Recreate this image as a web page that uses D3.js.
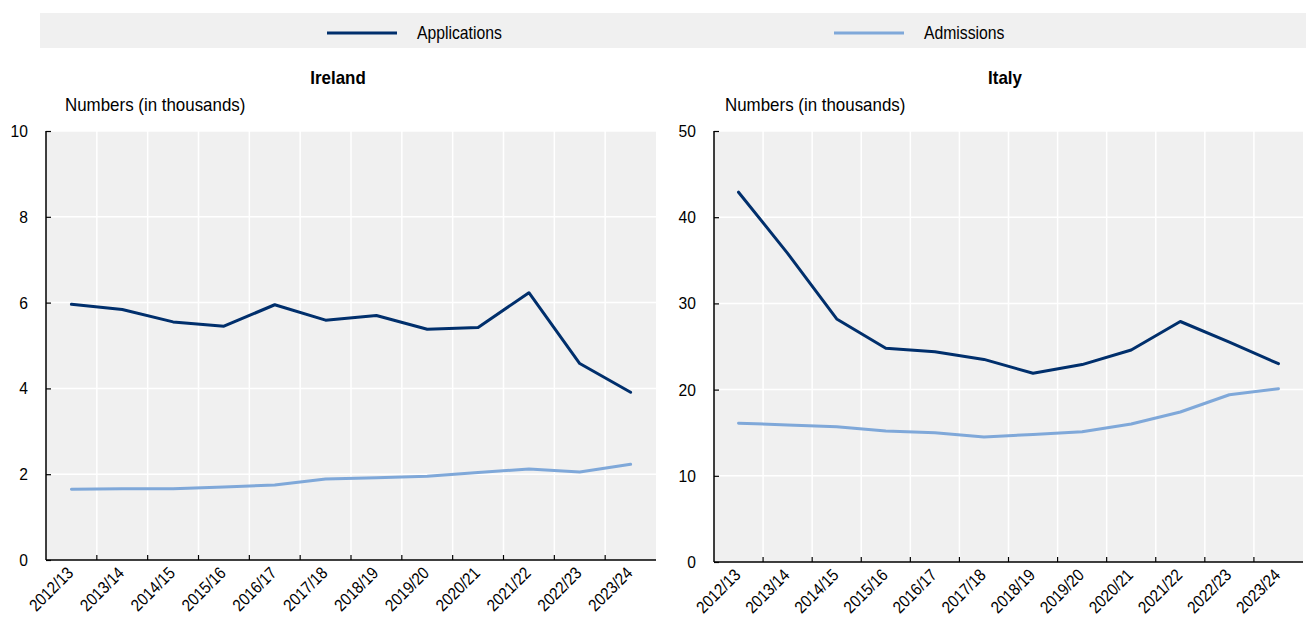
<!DOCTYPE html>
<html>
<head>
<meta charset="utf-8">
<script src="https://cdn.jsdelivr.net/npm/d3@7"></script>
<style>
  body { margin: 0; background: #fff; }
  svg text { font-family: "Liberation Sans", Arial, sans-serif; fill: #000; }
</style>
</head>
<body>
<div id="chart-container"></div>
<script>
// school years on the x axis
var years = ['2012/13', '2013/14', '2014/15', '2015/16', '2016/17', '2017/18',
             '2018/19', '2019/20', '2020/21', '2021/22', '2022/23', '2023/24'];

// Ireland, thousands
var irelandApplications = [5.96, 5.84, 5.55, 5.45, 5.95, 5.59, 5.70, 5.38, 5.42, 6.23, 4.58, 3.91];
var irelandAdmissions   = [1.65, 1.66, 1.66, 1.70, 1.75, 1.89, 1.92, 1.95, 2.04, 2.12, 2.05, 2.23];

// Italy, thousands
var italyApplications = [42.9, 35.8, 28.2, 24.8, 24.4, 23.5, 21.9, 22.9, 24.6, 27.9, 25.5, 23.0];
var italyAdmissions   = [16.1, 15.9, 15.7, 15.2, 15.0, 14.5, 14.8, 15.1, 16.0, 17.4, 19.4, 20.1];

var irelandTicks = [0, 2, 4, 6, 8, 10];
var italyTicks = [0, 10, 20, 30, 40, 50];

var seriesNames = ['Applications', 'Admissions'];
var colors = {Applications: '#002f6c', Admissions: '#7fa8d9'};

document.addEventListener('DOMContentLoaded', function() {
  visualise();
});

// narrow-looking text: Liberation Sans squeezed horizontally
function narrowText(parent, x, y, str, size, sx, extra) {
  return parent.append('text')
      .attr('transform', 'translate(' + x + ',' + y + ')' + (extra || '') + ' scale(' + sx + ',1)')
      .attr('font-size', size)
      .text(str);
}

function visualise() {
  const svgWidth = 1306;
  const svgHeight = 617;

  const svg = d3.select('#chart-container')
      .append('svg')
      .attr('width', svgWidth)
      .attr('height', svgHeight);

  // legend strip
  svg.append('rect')
      .attr('x', 40).attr('y', 13)
      .attr('width', 1266).attr('height', 35)
      .attr('fill', '#f0f0f0');

  const legendX = [327, 834];
  seriesNames.forEach(function(name, i) {
    svg.append('line')
        .attr('x1', legendX[i]).attr('x2', legendX[i] + 70)
        .attr('y1', 33).attr('y2', 33)
        .attr('stroke', colors[name])
        .attr('stroke-width', 3);
    narrowText(svg, legendX[i] + 90, 39, name, 17.5, 0.9);
  });

  drawPanel(svg, {
    title: 'Ireland', titleX: 338,
    left: 46, right: 656, top: 131, bottom: 560,
    ticks: irelandTicks,
    applications: irelandApplications, admissions: irelandAdmissions,
    unitX: 65
  });

  drawPanel(svg, {
    title: 'Italy', titleX: 1005,
    left: 714, right: 1303, top: 131, bottom: 562,
    ticks: italyTicks,
    applications: italyApplications, admissions: italyAdmissions,
    unitX: 725
  });
}

function drawPanel(svg, o) {
  const w = o.right - o.left;
  const h = o.bottom - o.top;

  narrowText(svg, o.titleX, 84, o.title, 18, 0.94)
      .attr('text-anchor', 'middle')
      .attr('font-weight', 'bold');

  narrowText(svg, o.unitX, 111, 'Numbers (in thousands)', 18, 0.94);

  const chart = svg.append('g')
      .attr('transform', 'translate(' + o.left + ',' + o.top + ')');

  const x = d3.scaleBand().domain(years).range([0, w]);
  const y = d3.scaleLinear()
      .domain([o.ticks[0], o.ticks[o.ticks.length - 1]])
      .range([h, 0]);

  chart.append('rect')
      .attr('width', w).attr('height', h)
      .attr('fill', '#f0f0f0');

  // vertical grid at band edges
  chart.selectAll('.vgrid')
    .data(years.slice(1))
    .enter().append('line')
      .attr('x1', function(d) { return x(d); })
      .attr('x2', function(d) { return x(d); })
      .attr('y1', 0).attr('y2', h)
      .attr('stroke', '#fff').attr('stroke-width', 1.5);

  chart.selectAll('.hgrid')
    .data(o.ticks.slice(1))
    .enter().append('line')
      .attr('x1', 0).attr('x2', w)
      .attr('y1', function(d) { return y(d); })
      .attr('y2', function(d) { return y(d); })
      .attr('stroke', '#fff').attr('stroke-width', 1.5);

  // y axis
  const yAxis = chart.append('g')
      .call(d3.axisLeft(y).tickValues(o.ticks).tickSize(-5).tickFormat(''));
  yAxis.select('.domain').attr('stroke', '#000').attr('stroke-width', 1.5)
      .attr('d', 'M0,' + h + 'V0');
  yAxis.selectAll('.tick line').attr('stroke', '#000').attr('stroke-width', 1.2);
  o.ticks.forEach(function(t) {
    narrowText(chart, -18, y(t) + 6, t, 17, 0.92).attr('text-anchor', 'end');
  });

  // x axis, ticks at band edges
  const xg = chart.append('g').attr('transform', 'translate(0,' + h + ')');
  xg.append('line')
      .attr('x1', 0).attr('x2', w)
      .attr('stroke', '#000').attr('stroke-width', 1.5);
  xg.selectAll('.xtick')
    .data(years.slice(1))
    .enter().append('line')
      .attr('x1', function(d) { return x(d); })
      .attr('x2', function(d) { return x(d); })
      .attr('y1', 0).attr('y2', -5)
      .attr('stroke', '#000').attr('stroke-width', 1.2);
  years.forEach(function(d) {
    narrowText(xg, x(d) + x.bandwidth() / 2 + 3, 14, d, 17, 0.88, ' rotate(-45)')
        .attr('text-anchor', 'end');
  });

  const line = d3.line()
      .x(function(d, i) { return x(years[i]) + x.bandwidth() / 2; })
      .y(function(d) { return y(d); });

  [['Admissions', o.admissions], ['Applications', o.applications]].forEach(function(s) {
    chart.append('path')
        .datum(s[1])
        .attr('fill', 'none')
        .attr('stroke', colors[s[0]])
        .attr('stroke-width', 3)
        .attr('stroke-linejoin', 'round')
        .attr('stroke-linecap', 'round')
        .attr('d', line);
  });
}
</script>
</body>
</html>
